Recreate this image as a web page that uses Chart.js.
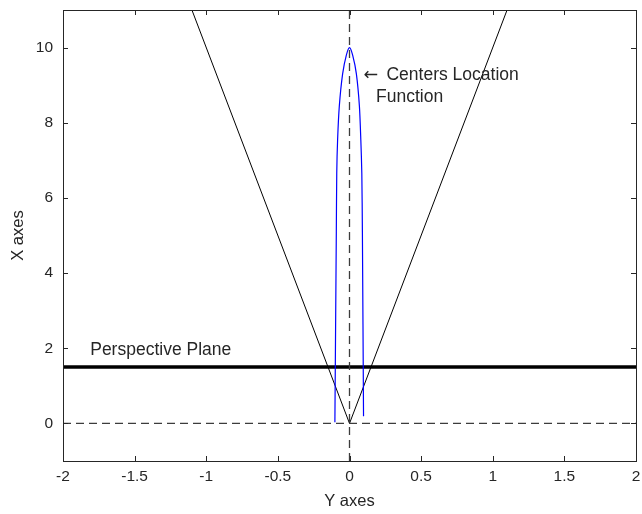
<!DOCTYPE html>
<html>
<head>
<meta charset="utf-8">
<script src="https://cdn.jsdelivr.net/npm/chart.js@4"></script>
<style>
  html, body { margin: 0; padding: 0; background: #fff; }
  #wrap { width: 642px; height: 514px; }
</style>
</head>
<body>
<div id="wrap"><canvas id="myChart" width="642" height="514"></canvas></div>
<script>
// tick labels
const xTicks = [-2, -1.5, -1, -0.5, 0, 0.5, 1, 1.5, 2];
const yTicks = [0, 2, 4, 6, 8, 10];

// the V shaped lines
const vX = [-1.1, 0, 1.1];
const vY = [11, 0, 11];

// centers location function (blue)
const curveX = [-0.102, -0.097, -0.092, -0.089, -0.083, -0.071, -0.048, -0.022, 0,
                0.022, 0.048, 0.069, 0.079, 0.086, 0.090, 0.098];
const curveY = [0.03, 2.6, 5.1, 6.65, 7.55, 8.45, 9.3, 9.8, 10,
                9.8, 9.3, 8.45, 7.55, 6.65, 5.1, 0.19];

// perspective plane
const planeX = [-2, 2];
const planeY = [1.5, 1.5];

// dashed reference lines
const hDashX = [-2, 2];
const hDashY = [0, 0];
const vDashX = [0, 0];
const vDashY = [-1, 11];

// annotations
const notes = [
    { text: 'Perspective Plane', x: -1.81, y: 1.94, arrow: false },
    { text: '\u2190', x: 0.097, y: 9.26, arrow: true },
    { text: 'Centers Location', x: 0.258, y: 9.26, arrow: false },
    { text: 'Function', x: 0.185, y: 8.67, arrow: false }
];

function pts(xs, ys) {
    let out = [];
    for (let i = 0; i < xs.length; i++) {
        out.push({ x: xs[i], y: ys[i] });
    }
    return out;
}

const axisColor = '#262626';
const font = 'Liberation Sans, Arial, Helvetica, sans-serif';

// box + inward ticks + text labels
const matlabAxes = {
    id: 'matlabAxes',
    afterDatasetsDraw(chart) {
        const ctx = chart.ctx;
        const a = chart.chartArea;
        const xs = chart.scales.x;
        const ys = chart.scales.y;
        ctx.save();

        ctx.fillStyle = axisColor;
        ctx.textBaseline = 'middle';
        ctx.textAlign = 'left';
        notes.forEach(n => {
            ctx.font = n.arrow ? '17.5px DejaVu Sans' : '17.5px ' + font;
            ctx.fillText(n.text, xs.getPixelForValue(n.x), ys.getPixelForValue(n.y));
        });

        ctx.strokeStyle = axisColor;
        ctx.lineWidth = 1;
        ctx.beginPath();
        xTicks.forEach(v => {
            const px = Math.round(xs.getPixelForValue(v)) + 0.5;
            ctx.moveTo(px, a.bottom); ctx.lineTo(px, a.bottom - 5);
            ctx.moveTo(px, a.top); ctx.lineTo(px, a.top + 5);
        });
        yTicks.forEach(v => {
            const py = Math.round(ys.getPixelForValue(v)) + 0.5;
            ctx.moveTo(a.left, py); ctx.lineTo(a.left + 5, py);
            ctx.moveTo(a.right, py); ctx.lineTo(a.right - 5, py);
        });
        ctx.stroke();
        ctx.strokeRect(Math.round(a.left) + 0.5, Math.round(a.top) + 0.5,
                       Math.round(a.right - a.left), Math.round(a.bottom - a.top));
        ctx.restore();
    }
};

const ctx = document.getElementById('myChart').getContext('2d');
const myChart = new Chart(ctx, {
    type: 'scatter',
    data: {
        datasets: [
            {
                data: pts(hDashX, hDashY),
                showLine: true, pointRadius: 0,
                borderColor: '#3c3c3c', borderWidth: 1.3, borderDash: [8, 5]
            },
            {
                data: pts(vDashX, vDashY),
                showLine: true, pointRadius: 0,
                borderColor: '#3c3c3c', borderWidth: 1.3, borderDash: [8, 5]
            },
            {
                data: pts(curveX, curveY),
                showLine: true, pointRadius: 0, tension: 0.25,
                borderColor: '#0000ff', borderWidth: 1.2
            },
            {
                data: pts(vX, vY),
                showLine: true, pointRadius: 0,
                borderColor: '#000000', borderWidth: 1
            },
            {
                data: pts(planeX, planeY),
                showLine: true, pointRadius: 0,
                borderColor: '#000000', borderWidth: 3.5
            }
        ]
    },
    options: {
        responsive: false,
        animation: false,
        clip: true,
        layout: { padding: { left: 0, right: 6, top: 10, bottom: 0 } },
        plugins: {
            legend: { display: false },
            tooltip: { enabled: false }
        },
        scales: {
            x: {
                type: 'linear',
                min: -2, max: 2,
                afterBuildTicks: scale => { scale.ticks = xTicks.map(v => ({ value: v })); },
                afterFit: scale => {
                    scale.height = 53;
                    scale.paddingLeft = 0; scale.paddingRight = 0;
                    scale.paddingTop = 0; scale.paddingBottom = 0;
                },
                grid: { display: false, drawTicks: false },
                border: { display: false },
                ticks: { color: axisColor, font: { family: font, size: 15.5 }, padding: 6, maxRotation: 0,
                         callback: v => String(v) },
                title: { display: true, text: 'Y axes', color: axisColor, font: { family: font, size: 16.5 }, padding: { top: 0, bottom: 3 } }
            },
            y: {
                type: 'linear',
                min: -1, max: 11,
                afterBuildTicks: scale => { scale.ticks = yTicks.map(v => ({ value: v })); },
                afterFit: scale => {
                    scale.width = 63;
                    scale.paddingLeft = 0; scale.paddingRight = 0;
                    scale.paddingTop = 0; scale.paddingBottom = 0;
                },
                grid: { display: false, drawTicks: false },
                border: { display: false },
                ticks: { color: axisColor, font: { family: font, size: 15.5 }, padding: 10,
                         callback: v => String(v) },
                title: { display: true, text: 'X axes', color: axisColor, font: { family: font, size: 16.5 }, padding: { top: 9, bottom: 0 } }
            }
        }
    },
    plugins: [matlabAxes]
});
</script>
</body>
</html>
